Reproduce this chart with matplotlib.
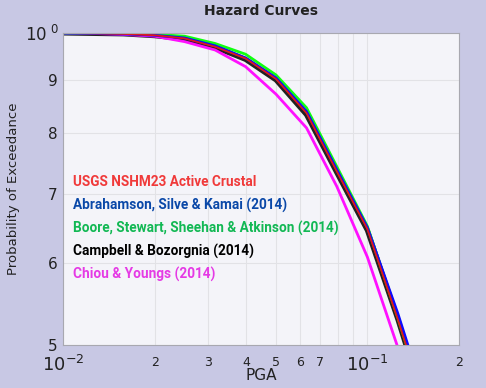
import numpy as np
import matplotlib
matplotlib.use("Agg")
import matplotlib.pyplot as plt

plt.rcParams['font.family'] = ['DejaVu Sans']

# PGA levels (g), 10 per decade
pga = [0.01, 0.0126, 0.0158, 0.02, 0.0251, 0.0316, 0.0398, 0.0501, 0.0631, 0.0794, 0.1, 0.126, 0.158]

# probability of exceedance
usgs = [1.0, 0.999, 0.998, 0.995, 0.988, 0.970, 0.945, 0.903, 0.837, 0.735, 0.647, 0.529, 0.430]
ask = [1.0, 0.999, 0.998, 0.995, 0.989, 0.972, 0.946, 0.905, 0.840, 0.738, 0.649, 0.536, 0.435]
bssa = [1.0, 0.9995, 0.999, 0.997, 0.993, 0.977, 0.954, 0.911, 0.847, 0.743, 0.651, 0.531, 0.430]
cb = [1.0, 0.999, 0.998, 0.994, 0.987, 0.969, 0.943, 0.901, 0.834, 0.733, 0.645, 0.529, 0.428]
cy = [0.9995, 0.999, 0.997, 0.993, 0.981, 0.963, 0.928, 0.873, 0.810, 0.711, 0.608, 0.497, 0.390]

names = ["USGS NSHM23 Active Crustal",
         "Abrahamson, Silve & Kamai (2014)",
         "Boore, Stewart, Sheehan & Atkinson (2014)",
         "Campbell & Bozorgnia (2014)",
         "Chiou & Youngs (2014)"]
text_colors = ["#f03a3a", "#0a48a8", "#12b854", "#000000", "#e53ae5"]

x_major = [0.01, 0.1]
x_major_labels = ["$10^{-2}$", "$10^{-1}$"]
x_minor = [0.02, 0.03, 0.04, 0.05, 0.06, 0.07, 0.08, 0.09, 0.2]
x_minor_labels = ["2", "3", "4", "5", "6", "7", "", "", "2"]
y_major = [1.0]
y_major_labels = ["$10^{\\ 0}$"]
y_minor = [0.5, 0.6, 0.7, 0.8, 0.9]
y_minor_labels = ["5", "6", "7", "8", "9"]

fig = plt.figure(figsize=(4.86, 3.88), dpi=100, facecolor="#c8c8e4")
ax = fig.add_axes([0.1296, 0.1108, 0.8148, 0.8041])
ax.set_facecolor("#f4f4f9")

ax.plot(pga, cb, color="#222222", lw=3.6, solid_capstyle="butt")
ax.plot(pga, cy, color="#ff10ff", lw=2)
ax.plot(pga, bssa, color="#10ff10", lw=2)
ax.plot(pga, ask, color="#0a0aff", lw=2)
ax.plot(pga, usgs, color="#e01818", lw=1.3)

ax.set_xscale("log")
ax.set_yscale("log")
ax.set_xlim(0.01, 0.2)
ax.set_ylim(0.5, 1.0)

ax.set_xticks(x_major, x_major_labels, fontsize=13)
ax.set_xticks(x_minor, x_minor_labels, minor=True, fontsize=9)
ax.set_yticks(y_major, y_major_labels, fontsize=12)
ax.set_yticks(y_minor, y_minor_labels, minor=True, fontsize=11)
ax.tick_params(which="both", length=0, pad=4, colors="#222222")
ax.tick_params(axis="x", which="minor", pad=8)
ax.tick_params(axis="x", which="major", pad=7)
ax.tick_params(axis="y", which="major", pad=3)

ax.grid(True, which="both", color="#e2e2e6", lw=0.8)
ax.set_axisbelow(True)
for s in ax.spines.values():
    s.set_color("#a8a8b0")

ax.set_xlabel("PGA", fontsize=11, color="#222222")
ax.xaxis.set_label_coords(0.5, -0.075)
ax.xaxis.label.set_va("top")
ax.set_ylabel("Probability of Exceedance", fontsize=9.5, color="#222222")
ax.yaxis.set_label_coords(-0.109, 0.5)
ax.set_title("Hazard Curves", fontsize=10, fontweight="bold", color="#222222", pad=13)

for i, (name, c) in enumerate(zip(names, text_colors)):
    fig.text(73 / 486, 1 - (182 + 23 * i) / 388, name, color=c, fontsize=9.8, fontweight="bold",
             family=["Roboto", "DejaVu Sans"], fontstretch="condensed", va="center", ha="left")

fig.savefig("out.png", dpi=100, facecolor=fig.get_facecolor())
